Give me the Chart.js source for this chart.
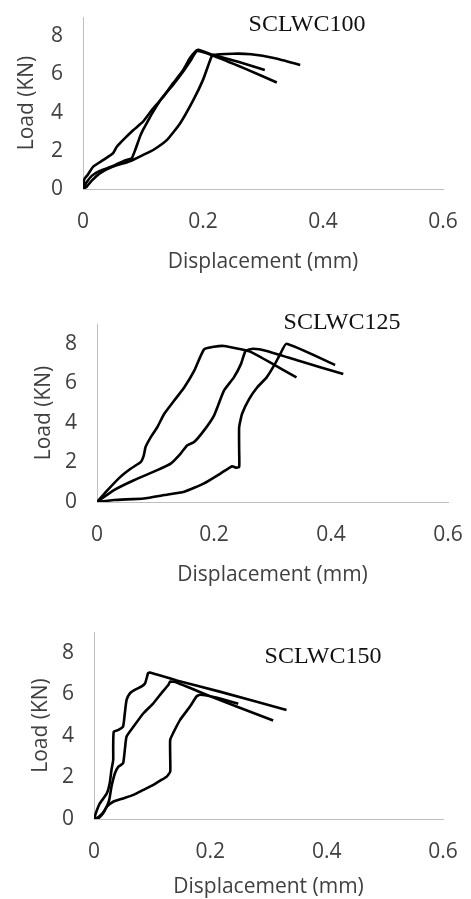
<!DOCTYPE html>
<html>
<head>
<meta charset="utf-8">
<script src="https://cdn.jsdelivr.net/npm/chart.js@4.4.1/dist/chart.umd.min.js"></script>
<style>
  html, body { margin: 0; padding: 0; background: #fff; }
  body { width: 471px; height: 899px; position: relative; overflow: hidden; }
  canvas { position: absolute; left: 0; display: block; }
</style>
</head>
<body>
<canvas id="c100" width="471" height="300" style="top:0px"></canvas>
<canvas id="c125" width="471" height="300" style="top:300px"></canvas>
<canvas id="c150" width="471" height="302" style="top:600px"></canvas>
<script>
// Axis ticks (shared by the three panels)
const xTicks = [0, 0.2, 0.4, 0.6];
const yTicks = [0, 2, 4, 6, 8];
const panelNames = ['SCLWC100', 'SCLWC125', 'SCLWC150'];

// SCLWC100 - three specimens (displacement mm / load kN)
const s100aX = [0, 0.002, 0.008, 0.017, 0.034, 0.05, 0.056, 0.067, 0.084, 0.1, 0.117, 0.134, 0.15, 0.167, 0.178, 0.187, 0.192, 0.217, 0.26, 0.303];
const s100aY = [0, 0.5, 0.75, 1.17, 1.52, 1.87, 2.2, 2.57, 3.09, 3.52, 4.22, 4.83, 5.53, 6.23, 6.84, 7.19, 7.28, 7.02, 6.65, 6.23];
const s100bX = [0, 0.006, 0.015, 0.028, 0.05, 0.07, 0.081, 0.087, 0.095, 0.1, 0.109, 0.117, 0.13, 0.15, 0.167, 0.18, 0.19, 0.215, 0.27, 0.323];
const s100bY = [0, 0.35, 0.7, 0.95, 1.2, 1.5, 1.6, 2.04, 2.74, 3.09, 3.61, 4.05, 4.7, 5.45, 6.15, 6.75, 7.22, 7.0, 6.3, 5.57];
const s100cX = [0, 0.006, 0.015, 0.028, 0.05, 0.078, 0.1, 0.117, 0.14, 0.162, 0.184, 0.2, 0.212, 0.216, 0.25, 0.28, 0.32, 0.362];
const s100cY = [0, 0.12, 0.45, 0.82, 1.17, 1.45, 1.78, 2.04, 2.57, 3.44, 4.66, 5.71, 6.75, 7.0, 7.08, 7.05, 6.84, 6.49];

// SCLWC125
const s125aX = [0, 0.018, 0.04, 0.058, 0.075, 0.08, 0.083, 0.092, 0.103, 0.115, 0.132, 0.149, 0.166, 0.183, 0.2, 0.217, 0.246, 0.262, 0.301, 0.341];
const s125aY = [0, 0.6, 1.27, 1.69, 2.03, 2.36, 2.78, 3.28, 3.78, 4.46, 5.13, 5.79, 6.63, 7.72, 7.85, 7.89, 7.72, 7.6, 6.97, 6.3];
const s125bX = [0, 0.029, 0.063, 0.103, 0.126, 0.143, 0.154, 0.166, 0.183, 0.2, 0.217, 0.234, 0.246, 0.254, 0.267, 0.29, 0.345, 0.421];
const s125bY = [0, 0.6, 1.1, 1.61, 1.94, 2.45, 2.86, 3.03, 3.62, 4.37, 5.63, 6.3, 6.97, 7.64, 7.75, 7.64, 7.14, 6.47];
const s125cX = [0, 0.029, 0.08, 0.115, 0.149, 0.183, 0.211, 0.231, 0.237, 0.243, 0.243, 0.243, 0.248, 0.26, 0.274, 0.29, 0.304, 0.313, 0.324, 0.407];
const s125cY = [0, 0.1, 0.18, 0.35, 0.52, 0.94, 1.44, 1.81, 1.74, 1.77, 2.6, 3.78, 4.46, 5.2, 5.8, 6.3, 6.97, 7.47, 8.0, 6.93];

// SCLWC150
const s150aX = [0, 0.004, 0.01, 0.022, 0.027, 0.03, 0.033, 0.033, 0.034, 0.042, 0.05, 0.053, 0.056, 0.062, 0.07, 0.082, 0.088, 0.093, 0.096, 0.142, 0.216, 0.331];
const s150aY = [0, 0.35, 0.75, 1.23, 1.72, 2.36, 2.84, 3.48, 4.2, 4.29, 4.45, 5.09, 5.73, 6.06, 6.22, 6.38, 6.54, 7.02, 7.05, 6.67, 6.13, 5.25];
const s150bX = [0, 0.008, 0.018, 0.026, 0.03, 0.036, 0.042, 0.05, 0.053, 0.056, 0.068, 0.085, 0.102, 0.116, 0.128, 0.131, 0.142, 0.2, 0.308];
const s150bY = [0, 0.1, 0.4, 0.9, 1.55, 2.2, 2.52, 2.68, 3.33, 3.97, 4.45, 5.09, 5.57, 6.06, 6.46, 6.62, 6.57, 5.9, 4.74];
const s150cX = [0, 0.008, 0.015, 0.022, 0.033, 0.05, 0.068, 0.085, 0.102, 0.116, 0.125, 0.131, 0.131, 0.131, 0.136, 0.148, 0.165, 0.176, 0.182, 0.21, 0.248];
const s150cY = [0, 0.05, 0.25, 0.59, 0.83, 0.99, 1.16, 1.4, 1.64, 1.88, 2.04, 2.28, 3.0, 3.81, 4.13, 4.77, 5.41, 5.89, 5.98, 5.85, 5.55];

function pts(xs, ys) {
    return xs.map((x, i) => ({ x: x, y: ys[i] }));
}

// draws the specimen name (serif, like the original figure)
const panelLabel = {
    id: 'panelLabel',
    afterDraw(chart, args, opts) {
        const ctx = chart.ctx;
        ctx.save();
        ctx.font = opts.size + 'px "Liberation Serif", "Times New Roman", serif';
        ctx.fillStyle = '#111';
        ctx.textAlign = 'center';
        ctx.textBaseline = 'alphabetic';
        ctx.fillText(opts.text, opts.x, opts.y);
        ctx.restore();
    }
};

const sans = "'Open Sans', 'Noto Sans', sans-serif";

// geometry: left/right/top = plot box edges, xAxisH = height below plot
function makePanel(id, name, series, g) {
    const datasets = series.map(s => ({
        data: s,
        showLine: true,
        borderColor: '#000',
        borderWidth: 2.6,
        pointRadius: 0,
        tension: 0.15,
        fill: false
    }));

    new Chart(document.getElementById(id), {
        type: 'scatter',
        data: { datasets: datasets },
        plugins: [panelLabel],
        options: {
            responsive: false,
            animation: false,
            layout: { padding: { top: g.top, right: g.right, left: 0, bottom: 0 } },
            plugins: {
                legend: { display: false },
                tooltip: { enabled: false },
                panelLabel: { text: name, x: g.tx, y: g.ty, size: 24 }
            },
            scales: {
                x: {
                    type: 'linear',
                    min: xTicks[0],
                    max: xTicks[xTicks.length - 1],
                    grid: { display: false, drawTicks: false },
                    border: { display: true, color: '#bfbfbf', width: 1 },
                    afterBuildTicks: (scale) => { scale.ticks = xTicks.map(v => ({ value: v })); },
                    afterFit: (scale) => {
                        scale.height = g.xAxisH;
                        scale.paddingLeft = 0;
                        scale.paddingRight = 0;
                    },
                    ticks: {
                        padding: 20,
                        color: '#404040',
                        font: { family: sans, size: 21 },
                        callback: (v) => String(Math.round(v * 10) / 10)
                    },
                    title: {
                        display: true,
                        text: 'Displacement (mm)',
                        color: '#404040',
                        font: { family: sans, size: 21 },
                        padding: { top: 0, bottom: g.xTitlePad }
                    }
                },
                y: {
                    type: 'linear',
                    min: 0,
                    max: 9,
                    grid: { display: false, drawTicks: false },
                    border: { display: true, color: '#bfbfbf', width: 1 },
                    afterBuildTicks: (scale) => { scale.ticks = yTicks.map(v => ({ value: v })); },
                    afterFit: (scale) => {
                        scale.width = g.left;
                        scale.paddingTop = 0;
                        scale.paddingBottom = 0;
                    },
                    ticks: {
                        padding: 20,
                        color: '#404040',
                        font: { family: sans, size: 21 }
                    },
                    title: {
                        display: true,
                        text: 'Load (KN)',
                        color: '#404040',
                        font: { family: sans, size: 21 },
                        padding: { top: g.yTitlePad, bottom: 0 }
                    }
                }
            }
        }
    });
}

makePanel('c100', panelNames[0],
    [pts(s100aX, s100aY), pts(s100bX, s100bY), pts(s100cX, s100cY)],
    { left: 83, right: 28, top: 17, xAxisH: 111, xTitlePad: 25, yTitlePad: 14, tx: 307, ty: 31 });

makePanel('c125', panelNames[1],
    [pts(s125aX, s125aY), pts(s125bX, s125bY), pts(s125cX, s125cY)],
    { left: 97, right: 23, top: 24, xAxisH: 98, xTitlePad: 12, yTitlePad: 31, tx: 342, ty: 29 });

makePanel('c150', panelNames[2],
    [pts(s150aX, s150aY), pts(s150bX, s150bY), pts(s150cX, s150cY)],
    { left: 94, right: 28, top: 32, xAxisH: 83, xTitlePad: 2, yTitlePad: 28, tx: 323, ty: 63 });
</script>
</body>
</html>
